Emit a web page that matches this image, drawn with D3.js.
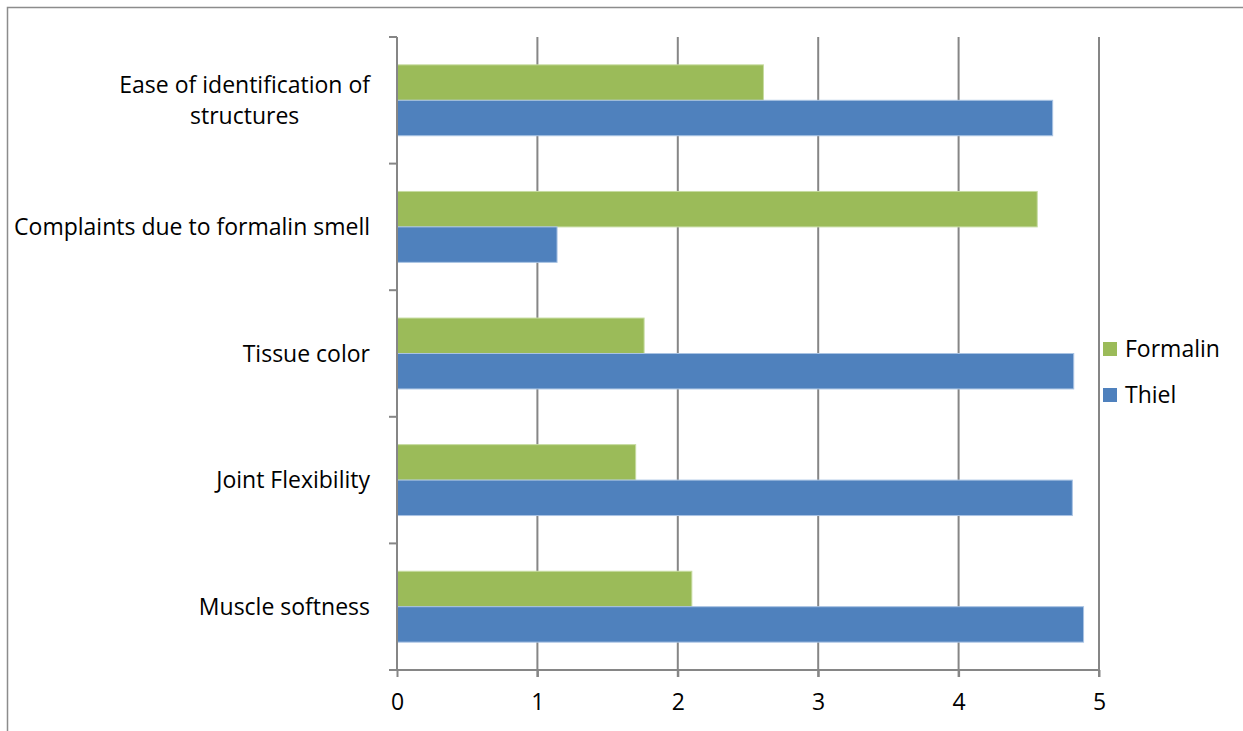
<!DOCTYPE html>
<html>
<head>
<meta charset="utf-8">
<script src="https://cdn.jsdelivr.net/npm/d3@7"></script>
<style>
  body { margin: 0; background: #fff; }
  svg { display: block; }
</style>
</head>
<body>
<div id="chart"></div>
<script>
const categories = [
  'Ease of identification of|structures',
  'Complaints due to formalin smell',
  'Tissue color',
  'Joint Flexibility',
  'Muscle softness'
];
const seriesNames = ['Formalin', 'Thiel'];
const formalinValues = [2.61, 4.56, 1.76, 1.70, 2.10];
const thielValues = [4.67, 1.14, 4.82, 4.81, 4.89];
const xTicks = [0, 1, 2, 3, 4, 5];
const colors = ['#9BBB59', '#4F81BD'];

const width = 1243, height = 731;
const plotLeft = 397, plotRight = 1099, plotTop = 37, plotBottom = 670;
const font = 'Open Sans';
const fontSize = 23;

const svg = d3.select('#chart').append('svg')
  .attr('width', width)
  .attr('height', height);

// outer frame
svg.append('rect')
  .attr('x', 7.5).attr('y', 7.5)
  .attr('width', width).attr('height', height)
  .attr('fill', 'none')
  .attr('stroke', '#8c8c8c')
  .attr('stroke-width', 1.5);

const x = d3.scaleLinear().domain([0, 5]).range([plotLeft, plotRight]);
const y = d3.scaleBand().domain(categories).range([plotTop, plotBottom])
  .paddingInner(0.44).paddingOuter(0.22);
const ySub = d3.scaleBand().domain(seriesNames).range([0, y.bandwidth()]);

// gridlines
svg.append('g')
  .selectAll('line')
  .data(xTicks.slice(1))
  .join('line')
  .attr('x1', d => x(d)).attr('x2', d => x(d))
  .attr('y1', plotTop).attr('y2', plotBottom + 7)
  .attr('stroke', '#868686')
  .attr('stroke-width', 2);

// bars
const rows = categories.map((c, i) => ({cat: c, vals: [formalinValues[i], thielValues[i]]}));
const groups = svg.append('g').selectAll('g')
  .data(rows)
  .join('g')
  .attr('transform', d => `translate(0,${y(d.cat)})`);
groups.selectAll('rect')
  .data(d => d.vals.map((v, j) => ({name: seriesNames[j], v, j})))
  .join('rect')
  .attr('x', x(0))
  .attr('y', d => ySub(d.name))
  .attr('width', d => x(d.v) - x(0))
  .attr('height', ySub.bandwidth())
  .attr('fill', d => colors[d.j])
  .attr('stroke', d => d.j === 0 ? '#c6dba0' : '#a9c3e3')
  .attr('stroke-width', 1);

// y axis line with category boundary ticks
svg.append('line')
  .attr('x1', plotLeft).attr('x2', plotLeft)
  .attr('y1', plotTop).attr('y2', plotBottom)
  .attr('stroke', '#868686').attr('stroke-width', 2);
const boundaries = d3.range(categories.length + 1)
  .map(i => plotTop + i * (plotBottom - plotTop) / categories.length);
svg.append('g').selectAll('line')
  .data(boundaries)
  .join('line')
  .attr('x1', plotLeft - 8).attr('x2', plotLeft)
  .attr('y1', d => d).attr('y2', d => d)
  .attr('stroke', '#868686').attr('stroke-width', 2);

// x axis
const xAxis = svg.append('g')
  .attr('transform', `translate(0,${plotBottom})`)
  .call(d3.axisBottom(x).tickValues(xTicks).tickFormat(d3.format('d'))
    .tickSize(7).tickPadding(17));
xAxis.select('.domain').remove();
xAxis.selectAll('.tick line').attr('stroke', '#868686').attr('stroke-width', 2);
xAxis.selectAll('.tick text')
  .attr('font-family', font).attr('font-size', fontSize).attr('fill', '#000');
svg.append('line')
  .attr('x1', plotLeft - 8).attr('x2', plotRight)
  .attr('y1', plotBottom).attr('y2', plotBottom)
  .attr('stroke', '#868686').attr('stroke-width', 2);

// category labels
const labelRight = 370;
categories.forEach(c => {
  const lines = c.split('|');
  const cy = y(c) + y.bandwidth() / 2;
  const lh = 31;
  const t = svg.append('text')
    .attr('font-family', font).attr('font-size', fontSize).attr('fill', '#000');
  lines.forEach((ln, k) => {
    t.append('tspan')
      .attr('y', cy + (k - (lines.length - 1) / 2) * lh)
      .attr('dy', '0.35em')
      .text(ln);
  });
  let maxW = 0;
  t.selectAll('tspan').each(function() { maxW = Math.max(maxW, this.getComputedTextLength()); });
  if (lines.length > 1) {
    t.attr('text-anchor', 'middle');
    t.selectAll('tspan').attr('x', labelRight - maxW / 2);
  } else {
    t.attr('text-anchor', 'end');
    t.selectAll('tspan').attr('x', labelRight);
  }
});

// legend
const legend = svg.append('g').selectAll('g')
  .data(seriesNames)
  .join('g')
  .attr('transform', (d, i) => `translate(1103,${349 + i * 46})`);
legend.append('rect')
  .attr('x', 0).attr('y', -7)
  .attr('width', 14).attr('height', 14)
  .attr('fill', (d, i) => colors[i]);
legend.append('text')
  .attr('x', 22).attr('y', 0).attr('dy', '0.35em')
  .attr('font-family', font).attr('font-size', fontSize)
  .text(d => d);
</script>
</body>
</html>
